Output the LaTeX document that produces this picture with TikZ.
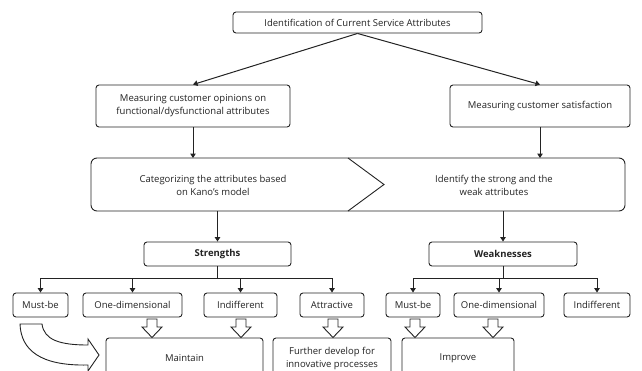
\documentclass[tikz,border=0pt]{standalone}
\usepackage{fontspec}
\setmainfont{Open Sans}
\usetikzlibrary{arrows.meta,calc}
\definecolor{ink}{RGB}{35,35,35}
\tikzset{
  box/.style={draw=ink,line width=0.9pt,rounded corners=3pt,fill=white,inner sep=1pt,
    align=center,text=ink,font=\fontsize{9.5}{13}\selectfont},
  txt/.style={align=center,text=ink,inner sep=1pt,font=\fontsize{9.5}{13}\selectfont},
  ar/.style={-{Triangle[length=4.5pt,width=5.5pt]},line width=1pt,draw=ink},
  hollow/.style={draw=ink,line width=0.9pt,fill=white,line join=miter},
}

\begin{document}
\begin{tikzpicture}[x=1pt,y=-1pt]
  \useasboundingbox (0,0) rectangle (642,370);
  \clip (0,0) rectangle (642,370);
  % first level
  \node[box,minimum width=249pt,minimum height=21pt] (top) at (357.5,22.5) {Identification of Current Service Attributes};
  \node[box,minimum width=194pt,minimum height=42pt] (meas1) at (193,106) {Measuring customer opinions on\\functional/dysfunctional attributes};
  \node[box,minimum width=180pt,minimum height=42pt] (meas2) at (540,106) {Measuring customer satisfaction};
  \draw[ar] (top.south) -- (meas1.north);
  \draw[ar] (top.south) -- (meas2.north);
  % chevron block
  \coordinate (blkN) at (0,158);
  \coordinate (blkS) at (0,211);
  \draw[draw=ink,line width=0.9pt,rounded corners=6pt] (91,158) rectangle (625,211);
  \draw[draw=ink,line width=0.9pt] (348,158) -- (384,184.5) -- (348,211);
  \node[txt] (cat) at (213,185) {Categorizing the attributes based\\on Kano's model};
  \node[txt] (iden) at (494,185) {Identify the strong and the\\weak attributes};
  \draw[ar] (meas1.south) -- (meas1.south |- blkN);
  \draw[ar] (meas2.south) -- (meas2.south |- blkN);
  % strengths / weaknesses
  \node[box,minimum width=147pt,minimum height=24pt,font=\fontsize{9.5}{13}\selectfont\bfseries] (str) at (217.5,254) {Strengths};
  \node[box,minimum width=148pt,minimum height=24pt,font=\fontsize{9.5}{13}\selectfont\bfseries] (weak) at (503,254) {Weaknesses};
  \draw[ar] (str.north |- blkS) -- (str.north);
  \draw[ar] (weak.north |- blkS) -- (weak.north);
  % categories
  \node[box,minimum width=55pt,minimum height=24pt] (mustL) at (40.5,305) {Must-be};
  \node[box,minimum width=99pt,minimum height=24pt] (oneL) at (132.5,305) {One-dimensional};
  \node[box,minimum width=73pt,minimum height=24pt] (indL) at (240.5,305) {Indifferent};
  \node[box,minimum width=64pt,minimum height=24pt] (attr) at (332,305) {Attractive};
  \node[box,minimum width=54pt,minimum height=24pt] (mustR) at (413,305) {Must-be};
  \node[box,minimum width=90pt,minimum height=24pt] (oneR) at (499,305) {One-dimensional};
  \node[box,minimum width=66pt,minimum height=24pt] (indR) at (597,305) {Indifferent};
  \foreach \b in {mustL,oneL,indL,attr}
    \draw[ar] (str.south) -- ++(0,12.5) -| (\b.north);
  \foreach \b in {mustR,oneR,indR}
    \draw[ar] (weak.south) -- ++(0,12.5) -| (\b.north);
  % outcomes
  \node[box,minimum width=157pt,minimum height=40pt] (maint) at (184.5,358) {Maintain};
  \node[box,minimum width=118pt,minimum height=40pt] (furth) at (332,358) {Further develop for\\innovative processes};
  \node[box,minimum width=112pt,minimum height=40pt] (impr) at (458,358) {Improve};
  \foreach \x in {152,241,333,415,493}
    \draw[hollow] (\x-5,319) -- (\x+5,319) -- (\x+5,327) -- (\x+10,327) -- (\x,337.5)
      -- (\x-10,327) -- (\x-5,327) -- cycle;
  \draw[hollow] (20,324) -- (42,324) .. controls (44,340) and (60,345) .. (88,345)
    -- (88,339) -- (99,355) -- (88,371) -- (88,365)
    .. controls (40,366) and (21,350) .. (20,324) -- cycle;
\end{tikzpicture}
\end{document}
